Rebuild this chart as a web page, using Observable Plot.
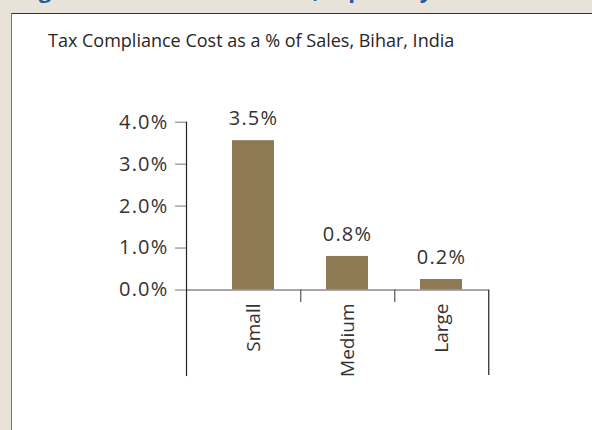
<!DOCTYPE html>
<html>
<head>
<meta charset="utf-8">
<script src="https://cdn.jsdelivr.net/npm/d3@7"></script>
<script src="https://cdn.jsdelivr.net/npm/@observablehq/plot@0.6"></script>
<style>
html, body { margin: 0; padding: 0; }
body { width: 592px; height: 430px; background: #e8e2d9; position: relative; overflow: hidden; font-family: "Open Sans", sans-serif; }
#fig { position: absolute; left: 20px; top: -26px; font-size: 22px; font-weight: bold; color: #1d5ba8; white-space: nowrap; }
#panel { position: absolute; left: 11px; top: 13px; right: 0; bottom: 0; background: #fff; border-left: 1.5px solid #777; border-top: 1.5px solid #333; }
#title { position: absolute; left: 48px; top: 28px; font-size: 18px; color: #262626; white-space: nowrap; }
#chart { position: absolute; left: 0; top: 0; }
#chart .pct { letter-spacing: 1.2px; font-size: 20px; }
</style>
</head>
<body>
<div id="fig">Figure 3: Costs Are Heavier, Especially for Small Firms</div>
<div id="panel"></div>
<div id="title">Tax Compliance Cost as a % of Sales, Bihar, India</div>
<div id="chart"></div>
<script>
const categories = ["Small", "Medium", "Large"];
const values = [3.56, 0.80, 0.25];
const valueLabels = ["3.5%", "0.8%", "0.2%"];
const yTicks = [0, 1, 2, 3, 4];

const data = categories.map((c, i) => ({size: c, value: values[i], label: valueLabels[i]}));
const xRange = [204.75, 488.25];
const step = (xRange[1] - xRange[0]) / categories.length;

const chart = Plot.plot({
  width: 592,
  height: 430,
  marginLeft: 186,
  marginRight: 592 - xRange[1],
  marginTop: 121.7,
  marginBottom: 55,
  style: {background: "none", fontFamily: "Open Sans, sans-serif", fontSize: "19px", color: "#333", overflow: "visible"},
  x: {type: "band", domain: categories, range: xRange, paddingInner: 0.5556, paddingOuter: 0.2778, align: 0.5, axis: null},
  y: {domain: [0, 4], range: [289.5, 121.7], axis: null},
  marks: [
    Plot.barY(data, {x: "size", y: "value", fill: "#8d7a55"}),
    Plot.ruleY([0], {stroke: "#8a8a8a", strokeWidth: 1.5}),
    Plot.frame({anchor: "left", stroke: "#222", strokeWidth: 1.2}),
    Plot.ruleX(categories.slice(0, 2), {x: d => d, dx: step / 2, y1: 0, y2: 0, insetBottom: -12.5, stroke: "#555", strokeWidth: 1.2}),
    Plot.ruleX(categories.slice(2), {x: d => d, dx: step / 2, y1: 0, y2: 0, insetBottom: -85.5, stroke: "#222", strokeWidth: 1.2}),
    Plot.axisY({ticks: yTicks, tickFormat: d => d.toFixed(1) + "%", tickSize: 11, tickPadding: 7, stroke: "#777", fill: "#333", label: null, className: "pct"}),
    Plot.text(categories, {x: d => d, y: 0, text: d => d, rotate: -90, textAnchor: "end", dy: 13.5, fill: "#333"}),
    Plot.text(data, {x: "size", y: "value", text: "label", dy: -22, fill: "#333", className: "pct"})
  ]
});
document.getElementById("chart").appendChild(chart);
</script>
</body>
</html>
